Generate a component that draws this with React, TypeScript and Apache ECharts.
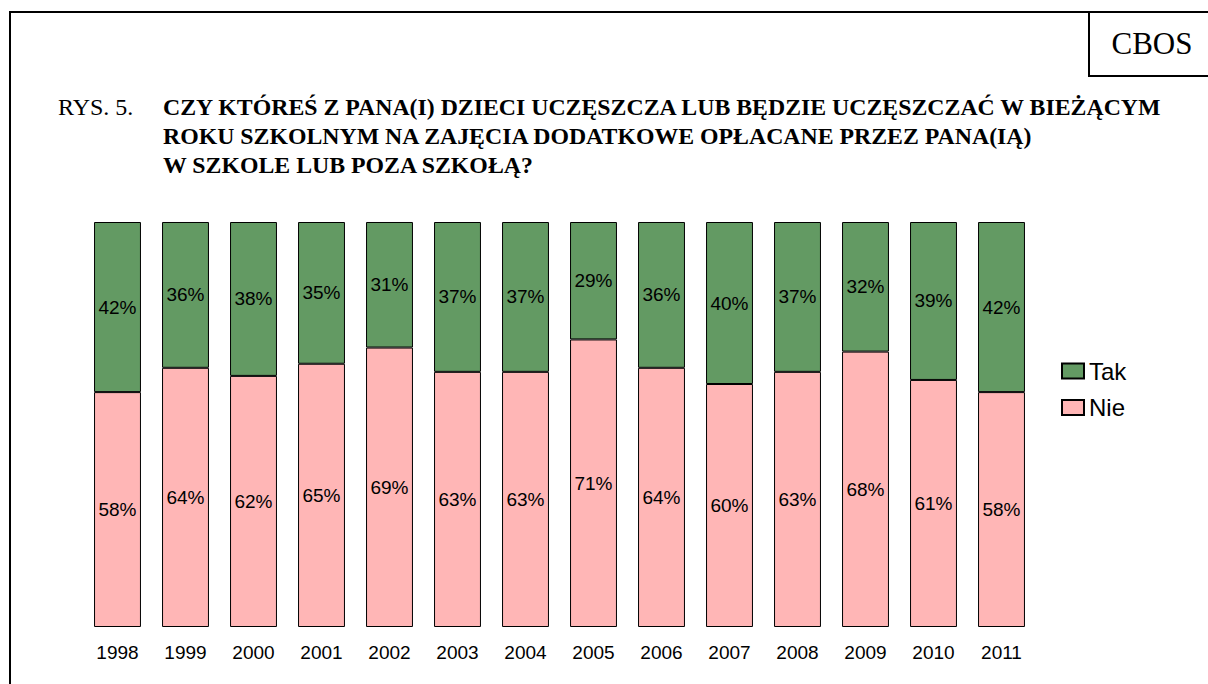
import React, { useEffect, useRef } from "react";
import * as echarts from "echarts";

const years = ["1998", "1999", "2000", "2001", "2002", "2003", "2004", "2005", "2006", "2007", "2008", "2009", "2010", "2011"];
const tak = [42, 36, 38, 35, 31, 37, 37, 29, 36, 40, 37, 32, 39, 42];
const nie = [58, 64, 62, 65, 69, 63, 63, 71, 64, 60, 63, 68, 61, 58];
const titleLines = [
  "CZY KTÓREŚ Z PANA(I) DZIECI UCZĘSZCZA LUB BĘDZIE UCZĘSZCZAĆ W BIEŻĄCYM",
  "ROKU SZKOLNYM NA ZAJĘCIA DODATKOWE OPŁACANE PRZEZ PANA(IĄ)",
  "W SZKOLE LUB POZA SZKOŁĄ?",
];

export default function App() {
  const ref = useRef<HTMLDivElement>(null);
  useEffect(() => {
    if (!ref.current) return;
    const chart = echarts.init(ref.current, null, { renderer: "svg" });
    const sans = "Liberation Sans, Arial, sans-serif";
    const serif = "Liberation Serif, Times New Roman, serif";
    const labelStyle = {
      show: true,
      position: "inside",
      color: "#000",
      fontFamily: sans,
      fontSize: 19,
      formatter: "{c}%",
    };
    chart.setOption({
      animation: false,
      backgroundColor: "#fff",
      grid: { left: 83.5, right: 1208 - 1035.5, top: 222, bottom: 684 - 627 },
      xAxis: {
        type: "category",
        data: years,
        axisLine: { show: false },
        axisTick: { show: false },
        axisLabel: { color: "#000", fontFamily: sans, fontSize: 19, margin: 16 },
      },
      yAxis: { type: "value", min: 0, max: 100, show: false, splitLine: { show: false } },
      legend: {
        orient: "vertical",
        left: 1061,
        top: 359,
        padding: 0,
        icon: "rect",
        itemWidth: 22,
        itemHeight: 15,
        itemGap: 12.5,
        data: ["Tak", "Nie"],
        textStyle: { color: "#000", fontFamily: sans, fontSize: 24 },
      },
      series: [
        {
          name: "Nie",
          type: "bar",
          stack: "a",
          data: nie,
          barCategoryGap: "31%",
          itemStyle: { color: "#FFB6B6", borderColor: "#000", borderWidth: 1 },
          label: labelStyle,
        },
        {
          name: "Tak",
          type: "bar",
          stack: "a",
          data: tak,
          itemStyle: { color: "#639A63", borderColor: "#000", borderWidth: 1 },
          label: labelStyle,
        },
      ],
      graphic: [
        { type: "rect", shape: { x: 10, y: 12, width: 1220, height: 700 }, style: { fill: "none", stroke: "#000", lineWidth: 2 }, silent: true },
        { type: "rect", shape: { x: 1089, y: 12, width: 140, height: 64 }, style: { fill: "none", stroke: "#000", lineWidth: 2 }, silent: true },
        { type: "text", x: 1152, y: 43, style: { text: "CBOS", fontFamily: serif, fontSize: 31, fill: "#000", align: "center", verticalAlign: "middle" } },
        { type: "text", x: 58, y: 107, style: { text: "RYS. 5.", fontFamily: serif, fontSize: 24, fill: "#000", verticalAlign: "middle" } },
        ...titleLines.map((t, i) => ({
          type: "text",
          x: 163,
          y: 107 + i * 29,
          style: { text: t, fontFamily: serif, fontWeight: "bold", fontSize: 23.8, fill: "#000", verticalAlign: "middle" },
        })),
      ],
    });
    return () => chart.dispose();
  }, []);
  return <div ref={ref} style={{ position: "fixed", left: 0, top: 0, width: 1208, height: 684 }} />;
}
